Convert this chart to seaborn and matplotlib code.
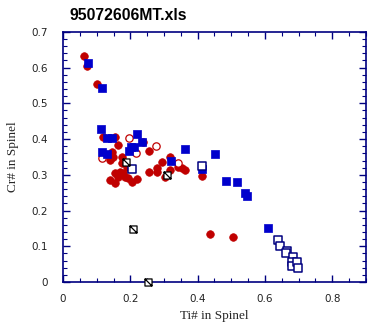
import numpy as np
import pandas as pd
import matplotlib
matplotlib.use("Agg")
import matplotlib.pyplot as plt
from matplotlib.path import Path
from matplotlib.ticker import MultipleLocator
import seaborn as sns

title = "95072606MT.xls"
xlabel = "Ti# in Spinel"
ylabel = "Cr# in Spinel"

red_fill_x = [0.062, 0.071, 0.101, 0.119, 0.154, 0.163, 0.146, 0.149, 0.140, 0.175, 0.175, 0.190,
              0.255, 0.238, 0.255, 0.279, 0.279, 0.294, 0.318, 0.318, 0.303, 0.342, 0.353, 0.362,
              0.413, 0.437, 0.505, 0.154, 0.169, 0.163, 0.140, 0.154, 0.184, 0.193, 0.205, 0.220, 0.178]
red_fill_y = [0.633, 0.605, 0.555, 0.406, 0.406, 0.384, 0.364, 0.350, 0.342, 0.350, 0.333, 0.322,
              0.367, 0.392, 0.308, 0.319, 0.308, 0.336, 0.350, 0.314, 0.294, 0.322, 0.319, 0.314,
              0.297, 0.134, 0.126, 0.305, 0.308, 0.294, 0.286, 0.277, 0.294, 0.291, 0.280, 0.289, 0.305]

red_open_x = [0.196, 0.116, 0.217, 0.276, 0.342]
red_open_y = [0.403, 0.347, 0.361, 0.381, 0.333]

blue_fill_x = [0.074, 0.116, 0.113, 0.131, 0.146, 0.220, 0.235, 0.202, 0.211, 0.196, 0.116, 0.131,
               0.362, 0.451, 0.321, 0.413, 0.484, 0.517, 0.541, 0.547, 0.609]
blue_fill_y = [0.613, 0.543, 0.429, 0.403, 0.403, 0.415, 0.392, 0.378, 0.378, 0.367, 0.364, 0.359,
               0.373, 0.359, 0.339, 0.317, 0.283, 0.280, 0.249, 0.241, 0.151]

blue_open_x = [0.205, 0.413, 0.639, 0.644, 0.665, 0.662, 0.683, 0.680, 0.680, 0.695, 0.698]
blue_open_y = [0.317, 0.325, 0.118, 0.101, 0.087, 0.081, 0.070, 0.056, 0.045, 0.056, 0.039]

cross_x = [0.187, 0.309, 0.208, 0.252]
cross_y = [0.336, 0.300, 0.148, 0.000]

sns.set_style("ticks")
plt.rcParams['font.family'] = ['DejaVu Sans']

fig = plt.figure(figsize=(3.82, 3.29), dpi=100)
ax = fig.add_axes([0.165, 0.143, 0.793, 0.760])

navy = "#000080"
red = "#c00000"
blue = "#0000cc"

sns.scatterplot(x=red_fill_x, y=red_fill_y, ax=ax, marker="o", s=30, color=red,
                edgecolor=red, linewidth=0.5, zorder=3)
sns.scatterplot(x=red_open_x, y=red_open_y, ax=ax, marker="o", s=28, facecolor="white",
                edgecolor=red, linewidth=0.9, zorder=3)
sns.scatterplot(x=blue_fill_x, y=blue_fill_y, ax=ax, marker="s", s=30, color=blue,
                edgecolor=blue, linewidth=0.5, zorder=4)
sns.scatterplot(x=blue_open_x, y=blue_open_y, ax=ax, marker="s", s=28, facecolor="white",
                edgecolor=navy, linewidth=1.1, zorder=4)

cross_marker = Path([(-1, -1), (1, -1), (1, 1), (-1, 1), (-1, -1), (-1, 1), (1, -1)],
                    [Path.MOVETO, Path.LINETO, Path.LINETO, Path.LINETO, Path.CLOSEPOLY,
                     Path.MOVETO, Path.LINETO])
sns.scatterplot(x=cross_x, y=cross_y, ax=ax, marker=cross_marker, s=26, facecolor="white",
                edgecolor="black", linewidth=0.9, zorder=5, clip_on=False)

ax.set_xlim(0, 0.9)
ax.set_ylim(0, 0.7)
ax.xaxis.set_major_locator(MultipleLocator(0.2))
ax.xaxis.set_minor_locator(MultipleLocator(0.05))
ax.yaxis.set_major_locator(MultipleLocator(0.1))
ax.yaxis.set_minor_locator(MultipleLocator(0.02))
ax.xaxis.set_major_formatter(plt.FuncFormatter(lambda v, p: "0" if abs(v) < 1e-9 else f"{v:.1f}"))
ax.yaxis.set_major_formatter(plt.FuncFormatter(lambda v, p: "0" if abs(v) < 1e-9 else f"{v:.1f}"))

for sp in ax.spines.values():
    sp.set_color(navy)
    sp.set_linewidth(1.2)
ax.tick_params(which="both", direction="in", top=True, right=True, color=navy,
               labelsize=7.5, labelcolor="#222222")
ax.tick_params(axis="x", pad=9)
ax.tick_params(axis="y", pad=11)
ax.tick_params(which="major", length=5, width=1)
ax.tick_params(which="minor", length=3, width=0.8)

ax.set_xlabel(xlabel, family=["Liberation Serif", "DejaVu Serif"], fontsize=9.5, labelpad=4)
ax.set_ylabel(ylabel, family=["Liberation Serif", "DejaVu Serif"], fontsize=9.5, labelpad=9)
fig.text(0.183, 0.952, title, fontsize=11.3, fontweight="bold", ha="left", va="center",
         color="black", family=["Liberation Sans", "DejaVu Sans"])

fig.savefig("out.png", dpi=100)
